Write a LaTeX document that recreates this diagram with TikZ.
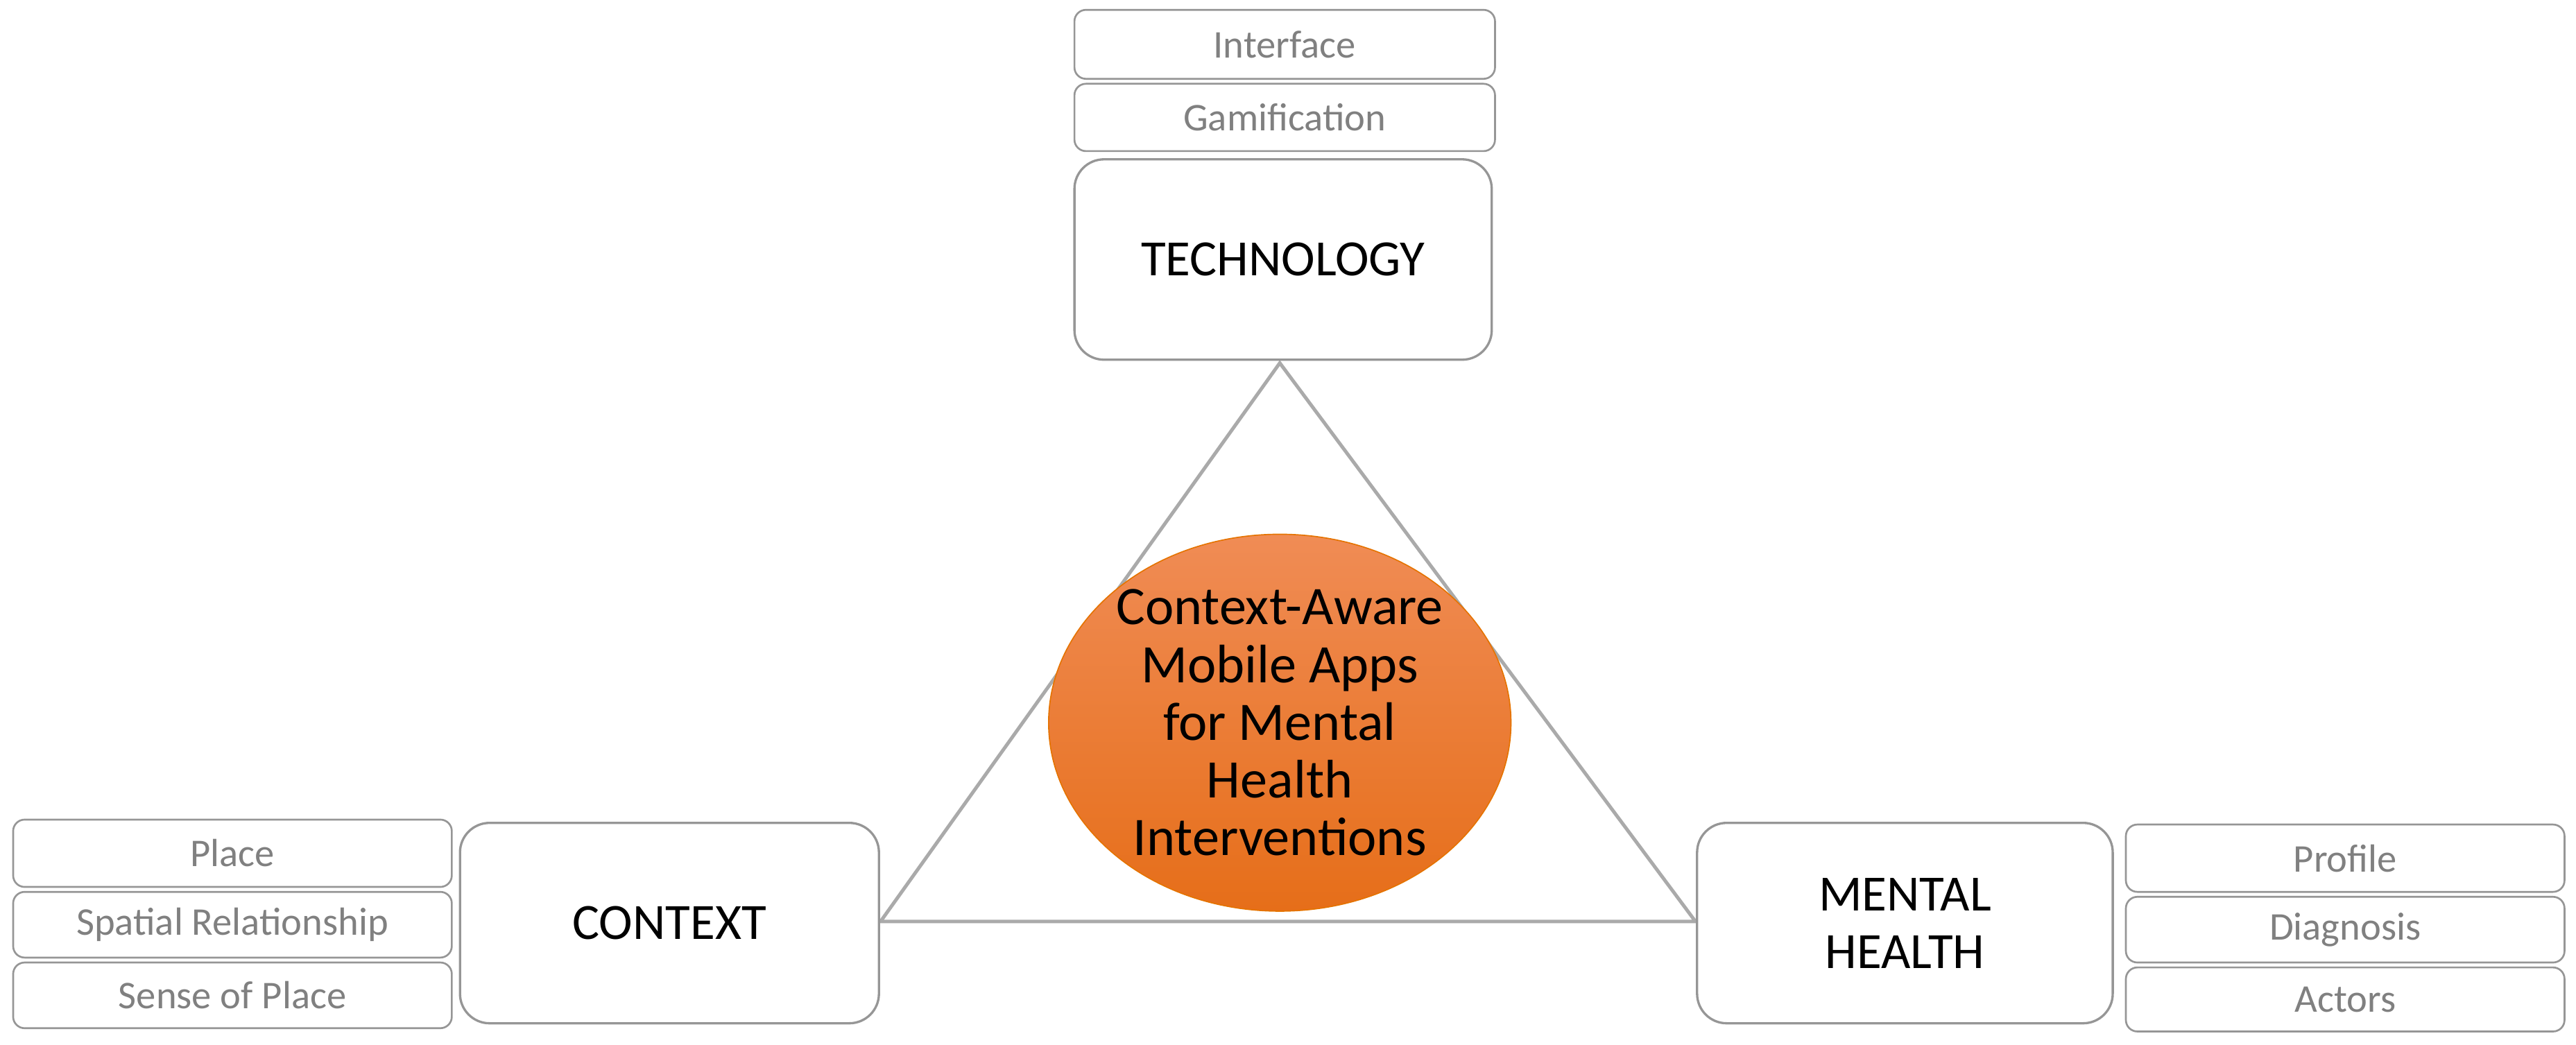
\documentclass[tikz,border=0pt]{standalone}
\usepackage{fontspec}
\setmainfont{Carlito}
\usetikzlibrary{shapes.geometric}
\definecolor{bord}{RGB}{150,150,150}
\definecolor{tri}{RGB}{170,170,170}
\definecolor{gtxt}{RGB}{128,128,128}
\begin{document}
\begin{tikzpicture}[x=0.05cm,y=-0.05cm,
 big/.style={draw=bord,line width=2pt,rounded corners=0.9cm,fill=white,font=\fontsize{44}{50}\selectfont,inner sep=0pt},
 small/.style={draw=bord,line width=1.6pt,rounded corners=0.35cm,fill=white,text=gtxt,font=\fontsize{34}{40}\selectfont,inner sep=0pt}]
\useasboundingbox (0,0) rectangle (1568,636.2);
\coordinate (T) at (779,221);
\coordinate (L) at (536,561);
\coordinate (R) at (1032,561);
\draw[tri,line width=3pt] (T) -- (L) -- (R) -- cycle;
\node[ellipse,draw=orange!90!black,line width=1pt,top color={rgb,255:red,240;green,140;blue,85},bottom color={rgb,255:red,230;green,110;blue,25},minimum width=272*0.05cm,minimum height=200*0.05cm,align=center,inner sep=0pt,font=\fontsize{47}{50}\selectfont] (c) at (779,440) {Context-Aware\\Mobile Apps\\for Mental\\Health\\Interventions};
% technology
\path (654,97) rectangle (908,219);
\node[big,minimum width=254*0.05cm,minimum height=122*0.05cm] (tech) at (781,158) {TECHNOLOGY};
\node[small,minimum width=256*0.05cm,minimum height=42*0.05cm] (if) at (782,27) {Interface};
\node[small,minimum width=256*0.05cm,minimum height=41*0.05cm] (gm) at (782,71.5) {Gamification};
% context
\node[big,minimum width=255*0.05cm,minimum height=122*0.05cm] (ctx) at (407.5,562) {CONTEXT};
\node[small,minimum width=267*0.05cm,minimum height=41*0.05cm] (pl) at (141.5,519.5) {Place};
\node[small,minimum width=267*0.05cm,minimum height=40*0.05cm] (sr) at (141.5,563) {Spatial Relationship};
\node[small,minimum width=267*0.05cm,minimum height=40*0.05cm] (sp) at (141.5,606) {Sense of Place};
% mental health
\node[big,minimum width=253*0.05cm,minimum height=122*0.05cm,align=center] (mh) at (1159.5,562) {MENTAL\\HEALTH};
\node[small,minimum width=267*0.05cm,minimum height=41*0.05cm] (pr) at (1427.5,522.5) {Profile};
\node[small,minimum width=267*0.05cm,minimum height=40*0.05cm] (dg) at (1427.5,566) {Diagnosis};
\node[small,minimum width=267*0.05cm,minimum height=39*0.05cm] (ac) at (1427.5,608.5) {Actors};
\end{tikzpicture}
\end{document}
